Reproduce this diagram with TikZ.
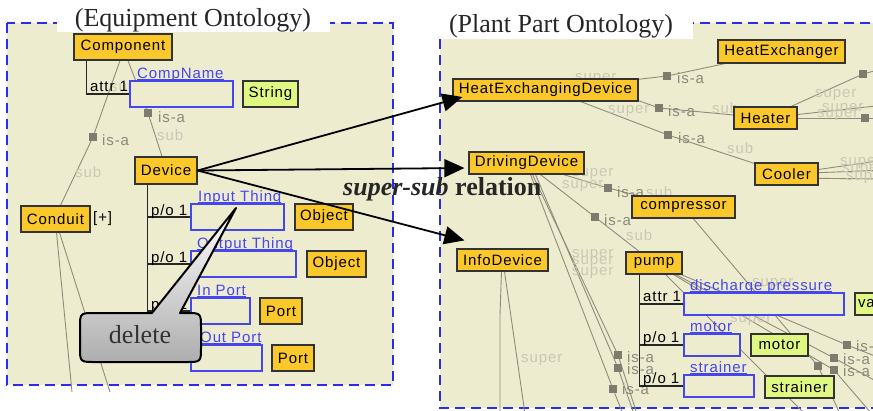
\documentclass[tikz,border=0pt]{standalone}
\usepackage{fontspec}
\setmainfont{Liberation Serif}
\newfontfamily\uifont[LetterSpace=6]{Liberation Sans}
\usetikzlibrary{arrows.meta,calc}
\definecolor{bg}{HTML}{EEECCE}
\definecolor{ycol}{HTML}{FAC82A}
\definecolor{gcol}{HTML}{E0F882}
\definecolor{bcol}{HTML}{4646F0}
\definecolor{dcol}{HTML}{2A2AF0}
\definecolor{ecol}{HTML}{8E8C7C}
\definecolor{sqcol}{HTML}{7E7C6E}
\definecolor{isacol}{HTML}{8A887C}
\definecolor{faint}{HTML}{CAC8B4}
\newcommand\bluline[1]{\setbox0\hbox{#1}\rlap{\rule[-2pt]{\wd0}{1pt}}\box0}
\pgfdeclarelayer{back}
\pgfdeclarelayer{lines}
\pgfsetlayers{back,lines,main}
\tikzset{
 ui/.style={font=\uifont\fontsize{15}{18}\selectfont},
 ybox/.style={ui, draw=black!80, line width=1.2, fill=ycol, inner sep=0, text=black},
 gbox/.style={ybox, fill=gcol},
 bbox/.style={draw=bcol, line width=1.2, fill=bg, inner sep=0},
 blab/.style={ui, text=bcol, anchor=base west, inner sep=0},
 rel/.style={ui, text=black, anchor=base west, inner sep=0},
 isa/.style={ui, text=isacol, anchor=base west, inner sep=0},
 fnt/.style={ui, text=faint, anchor=base west, inner sep=0},
 sq/.style={fill=sqcol, minimum size=8, inner sep=0},
 isaline/.style={draw=ecol, line width=0.9},
 brk/.style={draw=black!85, line width=1.2},
 panel/.style={fill=bg, draw=dcol, line width=2.5, dash pattern=on 10pt off 6pt},
 bigarrow/.style={draw=black, line width=1.8, -{Triangle[length=20pt,width=18pt]}},
 title/.style={anchor=base, inner sep=0, font=\fontsize{26}{30}\selectfont, text=black!85},
}
\begin{document}
\begin{tikzpicture}[x=1pt,y=-1pt]
\useasboundingbox (0,0) rectangle (873,410);
\begin{pgfonlayer}{back}
\fill[white] (0,0) rectangle (873,410);
\path[panel] (7,23) rectangle (393,385);
\path[panel] (440,23) rectangle (910,408);
\fill[white] (57,0) rectangle (330,32);
\fill[white] (436,0) rectangle (693,39);
\end{pgfonlayer}
\node[title] (t1) at (193,26) {(Equipment Ontology)};
\node[title] (t2) at (561,32) {(Plant Part Ontology)};

% ---------- left panel nodes
\node[ybox, minimum width=98, minimum height=26] (comp) at (123,47) {Component};
\node[bbox, minimum width=103, minimum height=26] (cname) at (181.5,94) {};
\node[blab] (lcname) at (137,78) {\bluline{CompName}};
\node[gbox, minimum width=55, minimum height=26] (str) at (270.5,94) {String};
\node[ybox, minimum width=62, minimum height=27] (dev) at (166,170.5) {Device};
\node[ybox, minimum width=69, minimum height=26] (cond) at (55.5,219) {Conduit};
\node[ui, anchor=west, inner sep=0] (plus) at (93,219) {[+]};
\node[bbox, minimum width=93, minimum height=26] (inth) at (237.5,217) {};
\node[blab] (linth) at (198,201) {\bluline{Input Thing}};
\node[ybox, minimum width=58, minimum height=26] (obj1) at (324,217) {Object};
\node[bbox, minimum width=105, minimum height=26] (outth) at (243.5,264) {};
\node[blab] (loutth) at (197,248) {\bluline{Output Thing}};
\node[ybox, minimum width=59, minimum height=26] (obj2) at (336.5,264) {Object};
\node[bbox, minimum width=59, minimum height=26] (inp) at (220.5,311) {};
\node[blab] (linp) at (197,295) {\bluline{In Port}};
\node[ybox, minimum width=42, minimum height=26] (port1) at (281,311) {Port};
\node[bbox, minimum width=71, minimum height=26] (outp) at (226.5,358) {};
\node[blab] (loutp) at (200,342) {\bluline{Out Port}};
\node[ybox, minimum width=42, minimum height=26] (port2) at (293,358) {Port};

\draw[brk] ($(comp.south west)+(13,0)$) |- (cname.west);
\node[rel] (a1l) at (90,91) {attr 1};
\draw[brk] ($(dev.south west)+(13,0)$) |- (inth.west);
\draw[brk] ($(dev.south west)+(13,0)$) |- (outth.west);
\draw[brk] ($(dev.south west)+(13,0)$) |- (inp.west);
\draw[brk] ($(dev.south west)+(13,0)$) |- (outp.west);
\node[rel] (po1) at (151,215) {p/o 1};
\node[rel] (po2) at (151,262) {p/o 1};
\node[rel] (po3) at (151,309) {p/o 1};
\node[rel] (po4) at (151,355) {p/o 1};

% ---------- right panel nodes
\node[ybox, minimum width=127, minimum height=23] (hex) at (781.5,51.5) {HeatExchanger};
\node[ybox, minimum width=185, minimum height=22] (hed) at (545.5,90) {HeatExchangingDevice};
\node[ybox, minimum width=63, minimum height=22] (heat) at (765.5,118) {Heater};
\node[ybox, minimum width=63, minimum height=22] (cool) at (786.5,174) {Cooler};
\node[ybox, minimum width=115, minimum height=22] (dd) at (526.5,163) {DrivingDevice};
\node[ybox, minimum width=103, minimum height=22] (cmp) at (683.5,207) {compressor};
\node[ybox, minimum width=91, minimum height=22] (info) at (502.5,260) {InfoDevice};
\node[ybox, minimum width=56, minimum height=22] (pump) at (654,263) {pump};
\node[bbox, minimum width=160, minimum height=22] (dp) at (764,304) {};
\node[blab] (ldp) at (690,290) {\bluline{discharge pressure}};
\node[gbox, minimum width=40, minimum height=22, text width=34] (va) at (875,304) {va};
\node[bbox, minimum width=56, minimum height=22] (mot) at (712,345) {};
\node[blab] (lmot) at (690,331) {\bluline{motor}};
\node[gbox, minimum width=57, minimum height=22] (motg) at (779.5,345) {motor};
\node[bbox, minimum width=70, minimum height=22] (str2) at (719,386) {};
\node[blab] (lstr) at (690,372) {\bluline{strainer}};
\node[gbox, minimum width=69, minimum height=22] (strg) at (799.5,387) {strainer};

\draw[brk] ($(pump.south west)+(14,0)$) |- (dp.west);
\draw[brk] ($(pump.south west)+(14,0)$) |- (mot.west);
\draw[brk] ($(pump.south west)+(14,0)$) |- (str2.west);
\node[rel] (pa1) at (643,301) {attr 1};
\node[rel] (pp1) at (643,342) {p/o 1};
\node[rel] (pp2) at (643,383) {p/o 1};

% ---------- is-a connectors (behind the boxes)
\begin{pgfonlayer}{lines}
\node[fnt] at (110,91) {super};
\node[sq] (s1) at (148,113) {};
\node[sq] (s2) at (93,137) {};
\draw[isaline] ($(comp.south)+(5,0)$) -- (s1) -- ($(dev.north)+(-4,0)$);
\draw[isaline] ($(comp.south)+(-3,0)$) -- (s2) -- ($(cond.north)+(5,0)$);
\node[isa] at (158,122) {is-a};
\node[fnt] at (157,140) {sub};
\node[isa] at (102,145) {is-a};
\node[fnt] at (75,177) {sub};
\coordinate (cd1) at (72,392);
\coordinate (cd2) at (110,392);
\draw[isaline] ($(cond.south)+(1,0)$) -- (cd1);
\draw[isaline] ($(cond.south)+(4,0)$) -- (cd2);

% right panel
\node[sq] (r1) at (667,76) {};
\node[sq] (r2) at (659,108) {};
\node[sq] (r3) at (668,135) {};
\node[sq] (r4) at (863,74) {};
\node[sq] (r5) at (865,118) {};
\node[sq] (r7) at (608,188) {};
\node[sq] (r8) at (595,217) {};
\node[sq] (r9) at (818,366) {};
\node[sq] (ra) at (847,345) {};
\node[sq] (rb) at (834,358) {};
\node[sq] (rc) at (834,370) {};
\node[sq] (rd1) at (618,355) {};
\node[sq] (rd2) at (618,368) {};
\node[sq] (rd3) at (613,389) {};
\coordinate (x4) at (885,68);
\coordinate (x5a) at (885,105);
\coordinate (x5b) at (885,118);
\coordinate (x6a) at (885,160);
\coordinate (x6b) at (885,170);
\coordinate (x6c) at (885,179);
\coordinate (x9) at (840,414);
\coordinate (xa) at (885,360);
\coordinate (xb) at (885,386);
\coordinate (xc) at (872,414);
\coordinate (xd) at (805,414);
\coordinate (xe1) at (637,414);
\coordinate (xe2) at (634,414);
\coordinate (xe3) at (623,414);
\coordinate (xi1) at (500,315);
\coordinate (xi2) at (500,414);
\coordinate (xi3) at (525,414);

\draw[isaline] (hed) -- (r1) -- (hex);
\draw[isaline] ($(hed.south east)+(-3,-2)$) -- (r2) -- (heat);
\draw[isaline] ($(hed.south)+(30,-2)$) -- (r3) -- (cool);
\draw[isaline] (heat) -- (r4) -- (x4);
\draw[isaline] (heat) -- (x5a);
\draw[isaline] (heat) -- (r5) -- (x5b);
\draw[isaline] (cool) -- (x6a);
\draw[isaline] (cool) -- (x6b);
\draw[isaline] ($(cool.center)+(0,4)$) -- (x6c);
\draw[isaline] ($(dd.south)+(37,0)$) -- (r7) -- (cmp);
\draw[isaline] ($(dd.south)+(14,0)$) -- (r8) -- (pump);
\draw[isaline] (cmp) -- (r9) -- (x9);
\draw[isaline] (pump) -- (ra) -- (xa);
\draw[isaline] (pump) -- (rb) -- (xb);
\draw[isaline] (pump) -- (rc) -- (xc);
\draw[isaline] (pump) -- (xd);
\draw[isaline] ($(dd.south)+(6,0)$) -- (rd1) -- (xe1);
\draw[isaline] ($(dd.south)+(9,0)$) -- (rd2) -- (xe2);
\draw[isaline] ($(dd.south)+(4,0)$) -- (rd3) -- (xe3);
\draw[isaline] ($(info.south)+(-1,0)$) -- (xi1) -- (xi2);
\draw[isaline] ($(info.south)+(2,0)$) -- (xi3);

\node[fnt] at (575,81) {super};
\node[isa] at (677,83) {is-a};
\node[fnt] at (608,113) {super};
\node[isa] at (668,116) {is-a};
\node[fnt] at (712,113) {sub};
\node[isa] at (678,143) {is-a};
\node[fnt] at (727,153) {sub};
\node[fnt] at (815,97) {super};
\node[fnt] at (822,111) {super};
\node[fnt] at (817,117) {super};
\node[fnt] at (840,165) {super};
\node[fnt] at (842,172) {super};
\node[fnt] at (846,180) {super};
\node[fnt] at (572,176) {super};
\node[fnt] at (562,188) {super};
\node[isa] at (617,197) {is-a};
\node[fnt] at (646,197) {sub};
\node[isa] at (604,225) {is-a};
\node[fnt] at (626,240) {sub};
\node[fnt] at (572,257) {super};
\node[fnt] at (572,264) {super};
\node[fnt] at (572,275) {super};
\node[fnt] at (752,286) {super};
\node[fnt] at (730,322) {super};
\node[fnt] at (521,362) {super};
\node[isa] at (627,362) {is-a};
\node[isa] at (627,374) {is-a};
\node[isa] at (622,394) {is-a};
\node[isa] at (856,351) {is-a};
\node[isa] at (843,364) {is-a};
\node[isa] at (843,376) {is-a};
\node[isa] at (806,390) {is-a};
\end{pgfonlayer}

% ---------- super-sub arrows
\draw[bigarrow] (dev.east) -- ($(hed.west)+(10,7)$);
\draw[bigarrow] (dev.east) -- ($(dd.west)+(-4,5)$);
\draw[bigarrow] (dev.east) -- ($(info.north west)+(8,-8)$);
\node[anchor=base west, inner sep=0, font=\fontsize{26}{30}\selectfont, text=black!85] (ssr) at (343,195) {\textbf{\textit{super-sub}} \textbf{relation}};

% ---------- delete callout
\draw[line width=2, draw=black, line join=round, top color=white, bottom color=black!32]
  (152,313) -- (236,208) -- (180,313) -- (186,313)
  .. controls (201,313) .. (201,328) -- (201,347)
  .. controls (201,362) .. (186,362) -- (95,362)
  .. controls (80,362) .. (80,347) -- (80,328)
  .. controls (80,313) .. (95,313) -- cycle;
\node[anchor=base, inner sep=0, font=\fontsize{26}{30}\selectfont, text=black!80] (del) at (140,343) {delete};
\end{tikzpicture}
\end{document}
